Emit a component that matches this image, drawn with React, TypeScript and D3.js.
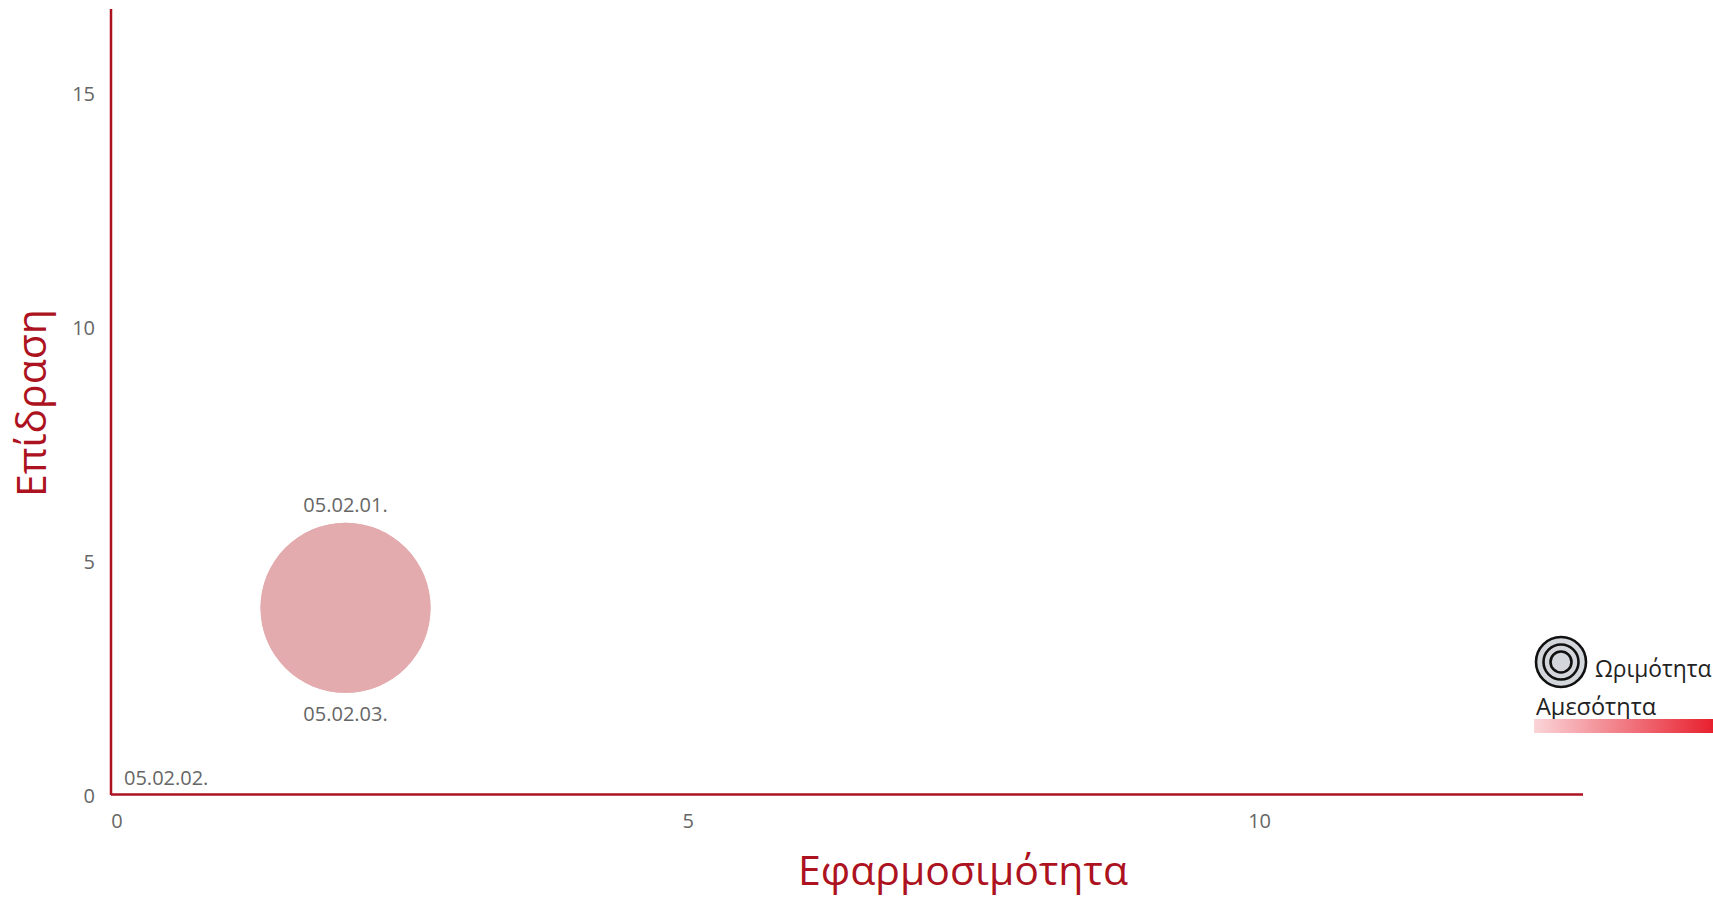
import React from "react";
import * as d3 from "d3";

// ---- data ----
const labels = ["05.02.01.", "05.02.03.", "05.02.02."];
const applicability = [2, 2, 0]; // x: Εφαρμοσιμότητα
const impact = [4, 4, 0]; // y: Επίδραση
const maturity = [4, 4, 0]; // bubble size: Ωριμότητα
const labelSide = ["above", "below", "above"];
const xTicks = [0, 5, 10];
const yTicks = [0, 5, 10, 15];
const xTitle = "Εφαρμοσιμότητα";
const yTitle = "Επίδραση";
const sizeLegend = "Ωριμότητα";
const colorLegend = "Αμεσότητα";

const W = 1713;
const H = 897;
const RED = "#ad1220";
const TICK = "#666666";
const FONT = "'Open Sans', 'Noto Sans', sans-serif";

export default function App() {
  const x = d3.scaleLinear().domain([0, 12.83]).range([117, 1583]);
  const y = d3.scaleLinear().domain([0, 16.8]).range([795, 9]);
  const r = d3.scaleSqrt().domain([0, 4]).range([0, 85]);
  const axisLeft = x(0) - 6;
  const axisBottom = y(0) - 0.5;

  return (
    <svg
      width={W}
      height={H}
      style={{ position: "absolute", left: 0, top: 0, display: "block", background: "#fff" }}
      fontFamily={FONT}
    >
      <defs>
        <linearGradient id="imm" x1="0" x2="1" y1="0" y2="0">
          <stop offset="0%" stopColor="#fad5d8" />
          <stop offset="100%" stopColor="#e8202e" />
        </linearGradient>
      </defs>

      {/* axes */}
      <line x1={axisLeft} x2={axisLeft} y1={y(16.8)} y2={y(0)} stroke={RED} strokeWidth={2.5} />
      <line x1={axisLeft} x2={x(12.83)} y1={axisBottom} y2={axisBottom} stroke={RED} strokeWidth={2.5} />

      {/* y ticks */}
      {yTicks.map((t) => (
        <text key={"y" + t} x={95} y={y(t)} textAnchor="end" dominantBaseline="central" fontSize={20} fill={TICK}>
          {t}
        </text>
      ))}
      {/* x ticks */}
      {xTicks.map((t) => (
        <text key={"x" + t} x={x(t)} y={820} textAnchor="middle" dominantBaseline="central" fontSize={20} fill={TICK}>
          {t}
        </text>
      ))}

      {/* titles */}
      <text x={963} y={885} textAnchor="middle" fontSize={41} fill={RED}>
        {xTitle}
      </text>
      <text transform={`translate(46,403) rotate(-90)`} textAnchor="middle" fontSize={41} fill={RED}>
        {yTitle}
      </text>

      {/* bubbles */}
      {labels.map((l, i) => (
        <circle key={"c" + i} cx={x(applicability[i])} cy={y(impact[i])} r={r(maturity[i])} fill="#e4abae" />
      ))}
      {labels.map((l, i) => {
        const cx = x(applicability[i]);
        const cy = y(impact[i]);
        const rr = r(maturity[i]);
        const ly = labelSide[i] === "above" ? cy - rr - 18 : cy + rr + 21;
        const clamp = cx - 41 < axisLeft + 13;
        return (
          <text
            key={"l" + i}
            x={clamp ? axisLeft + 13 : cx}
            y={ly}
            textAnchor={clamp ? "start" : "middle"}
            dominantBaseline="central"
            fontSize={20}
            fill={TICK}
          >
            {l}
          </text>
        );
      })}

      {/* legend: size */}
      <g transform="translate(1561,662)">
        <circle r={25} fill="#d3d6da" stroke="#111" strokeWidth={2.6} />
        <circle r={17.5} fill="#d3d6da" stroke="#111" strokeWidth={2.6} />
        <circle r={10.5} fill="#d3d6da" stroke="#111" strokeWidth={2.6} />
      </g>
      <text x={1595} y={677} fontSize={22.8} fill="#222">
        {sizeLegend}
      </text>
      {/* legend: color */}
      <text x={1536} y={715} fontSize={23.5} fill="#222">
        {colorLegend}
      </text>
      <rect x={1534} y={719} width={179} height={14} fill="url(#imm)" />
    </svg>
  );
}
